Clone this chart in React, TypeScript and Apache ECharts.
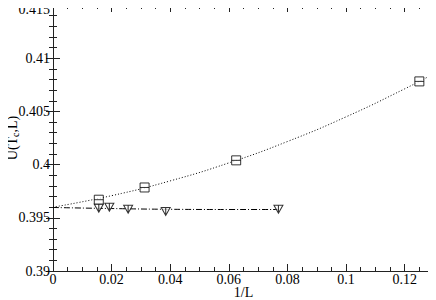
import React, { useEffect, useRef } from "react";
import * as echarts from "echarts";

const squareX = [0.015625, 0.03125, 0.0625, 0.125];
const squareY = [0.3967, 0.39785, 0.4004, 0.40782];

const triangleX = [0.015625, 0.01923, 0.02564, 0.03846, 0.07692];
const triangleY = [0.3959, 0.396, 0.3958, 0.3956, 0.3958];

const fitSquareX = [0, 0.02, 0.04, 0.06, 0.08, 0.1, 0.12, 0.13];
const fitSquareY = [0.396, 0.39708, 0.39847, 0.40016, 0.40217, 0.40449, 0.40712, 0.40855];

const fitTriX = [0, 0.02, 0.04, 0.06, 0.07692];
const fitTriY = [0.39597, 0.39587, 0.3958, 0.39578, 0.39578];

const xTicks = [0, 0.02, 0.04, 0.06, 0.08, 0.1, 0.12];
const yTicks = [0.39, 0.395, 0.4, 0.405, 0.41, 0.415];

const FONT = "Liberation Serif, Times New Roman, DejaVu Serif, serif";
const AX = "#222";

const zip = (xs: number[], ys: number[]) => xs.map((x, i) => [x, ys[i]]);

export default function App() {
  const ref = useRef<HTMLDivElement>(null);
  useEffect(() => {
    const chart = echarts.init(ref.current!, null, { renderer: "svg" });
    const xCommon = {
      type: "value",
      min: xTicks[0],
      max: 0.13,
      interval: xTicks[1] - xTicks[0],
      splitLine: { show: false },
      axisLine: { lineStyle: { color: AX, width: 1 } },
      axisTick: { inside: true, length: 7, lineStyle: { color: AX } },
      minorTick: { show: true, splitNumber: 4, length: 4, lineStyle: { color: AX } },
    };
    const yCommon = {
      type: "value",
      min: yTicks[0],
      max: yTicks[yTicks.length - 1],
      interval: yTicks[1] - yTicks[0],
      splitLine: { show: false },
      axisLine: { lineStyle: { color: AX, width: 1 } },
      axisTick: { inside: true, length: 7, lineStyle: { color: AX } },
      minorTick: { show: true, splitNumber: 5, length: 4, lineStyle: { color: AX } },
    };
    chart.setOption({
      animation: false,
      textStyle: { fontFamily: FONT },
      grid: { left: 53, right: 2, top: 5, bottom: 29, containLabel: false, outerBoundsMode: "none" },
      graphic: [
        {
          type: "text",
          x: 50,
          y: 2,
          style: {
            text: String(yTicks[yTicks.length - 1]),
            font: "14px " + FONT,
            fill: "#000",
            align: "right",
            verticalAlign: "top",
          },
        },
      ],
      xAxis: [
        {
          ...xCommon,
          position: "bottom",
          name: "1/L",
          nameLocation: "middle",
          nameGap: 14,
          nameMoveOverlap: false,
          nameTextStyle: { fontFamily: FONT, fontSize: 14, color: "#000", verticalAlign: "top" },
          axisLabel: {
            fontFamily: FONT,
            fontSize: 14,
            color: "#000",
            margin: 1,
            showMaxLabel: false,
            formatter: (v: number) => {
              const r = Math.round(v * 1000) / 1000;
              return xTicks.some((t) => Math.abs(t - r) < 1e-9) ? String(r) : "";
            },
          },
        },
        { ...xCommon, position: "top", axisLabel: { show: false } },
      ],
      yAxis: [
        {
          ...yCommon,
          position: "left",
          name: "U(T{sub|c},L)",
          nameLocation: "middle",
          nameGap: 33,
          nameMoveOverlap: false,
          nameTextStyle: {
            fontFamily: FONT,
            fontSize: 14,
            color: "#000",
            rich: { sub: { fontFamily: FONT, fontSize: 10, color: "#000", verticalAlign: "bottom", padding: [6, 0, 0, 0] } },
          },
          axisLabel: {
            fontFamily: FONT,
            fontSize: 14,
            color: "#000",
            margin: 3,
            showMaxLabel: false,
            formatter: (v: number) => {
              const r = Math.round(v * 1000) / 1000;
              return Math.abs(r - yTicks[yTicks.length - 1]) < 1e-9 ? "" : String(r);
            },
          },
        },
        { ...yCommon, position: "right", axisLabel: { show: false } },
      ],
      series: [
        {
          type: "line",
          data: zip(fitSquareX, fitSquareY),
          smooth: true,
          showSymbol: false,
          symbol: "none",
          lineStyle: { color: "#000", width: 1, type: [1, 2] },
          z: 1,
        },
        {
          type: "line",
          data: zip(fitTriX, fitTriY),
          smooth: true,
          showSymbol: false,
          symbol: "none",
          lineStyle: { color: "#000", width: 1, type: [6, 2, 1, 2] },
          z: 1,
        },
        {
          type: "scatter",
          data: zip(squareX, squareY),
          symbol: "path://M0,0H10V10H0Z M0,5H10",
          symbolSize: 9,
          itemStyle: { color: "#fff", borderColor: "#000", borderWidth: 1 },
          z: 3,
        },
        {
          type: "scatter",
          data: zip(triangleX, triangleY),
          symbol: "path://M0,0L10,0L5,9Z M5,0V9",
          symbolSize: [9, 8],
          itemStyle: { color: "#fff", borderColor: "#000", borderWidth: 1 },
          z: 3,
        },
      ],
    });
    return () => chart.dispose();
  }, []);
  return <div ref={ref} style={{ width: 436, height: 300, marginLeft: -8, marginTop: -8 }} />;
}
